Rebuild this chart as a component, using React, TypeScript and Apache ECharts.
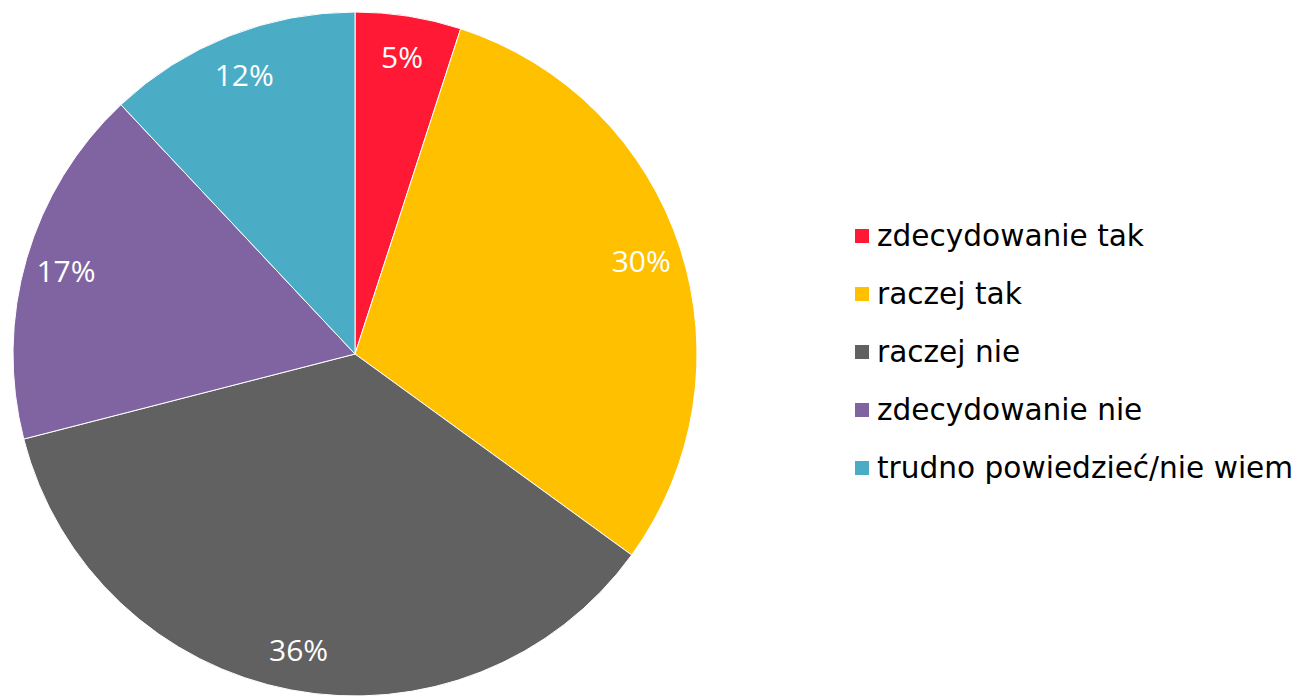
import React, { useEffect, useRef } from "react";
import * as echarts from "echarts";

const categories = [
  "zdecydowanie tak",
  "raczej tak",
  "raczej nie",
  "zdecydowanie nie",
  "trudno powiedzieć/nie wiem",
];
const values = [5, 30, 36, 17, 12];
const colors = ["#FF1935", "#FFC000", "#616161", "#8064A2", "#4BACC6"];

export default function App() {
  const ref = useRef<HTMLDivElement>(null);
  useEffect(() => {
    if (!ref.current) return;
    const chart = echarts.init(ref.current, null, { renderer: "svg" });
    const data = categories.map((name, i) => ({
      name,
      value: values[i],
      itemStyle: { color: colors[i] },
    }));
    chart.setOption({
      animation: false,
      backgroundColor: "#ffffff",
      legend: {
        orient: "vertical",
        left: 853,
        top: 221,
        padding: 0,
        itemWidth: 16,
        itemHeight: 16,
        itemGap: 28,
        icon: "rect",
        data: categories,
        textStyle: {
          fontFamily: "DejaVu Sans",
          fontSize: 29.6,
          lineHeight: 30,
          color: "#000000",
          padding: [0, 0, 0, 2],
        },
      },
      series: [
        {
          type: "pie",
          center: [355, 354],
          radius: [0, 342],
          startAngle: 90,
          clockwise: true,
          label: { show: false },
          labelLine: { show: false },
          emphasis: { disabled: true },
          itemStyle: { borderColor: "#ffffff", borderWidth: 1 },
          data,
        },
        {
          type: "pie",
          center: [355, 354],
          radius: [254, 342],
          startAngle: 90,
          clockwise: true,
          silent: true,
          legendHoverLink: false,
          emphasis: { disabled: true },
          itemStyle: { color: "rgba(0,0,0,0)", borderWidth: 0 },
          label: {
            show: true,
            position: "inside",
            formatter: "{c}%",
            color: "#ffffff",
            fontFamily: "Open Sans",
            fontSize: 30,
          },
          labelLine: { show: false },
          data: categories.map((name, i) => ({
            name: name + " ",
            value: values[i],
          })),
        },
      ],
    });
    return () => chart.dispose();
  }, []);
  return (
    <div
      ref={ref}
      style={{ position: "absolute", left: 0, top: 0, width: 1302, height: 696 }}
    />
  );
}
